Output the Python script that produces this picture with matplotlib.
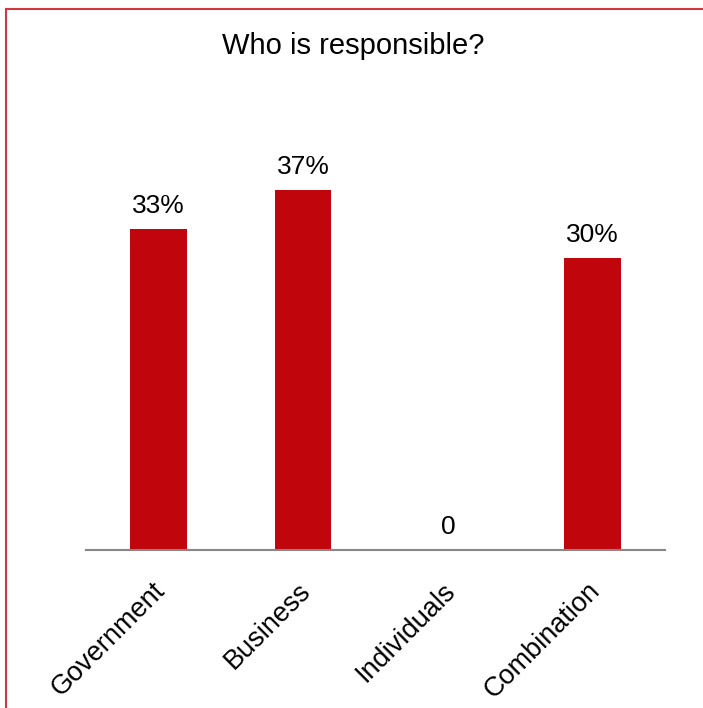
"""Who is responsible? bar chart."""

import matplotlib
matplotlib.use('Agg')
from matplotlib import pyplot as plt
from matplotlib import rc
from matplotlib.lines import Line2D
from matplotlib.transforms import ScaledTranslation

rc('font', family=['Liberation Sans', 'DejaVu Sans'])

categories = ['Government', 'Business', 'Individuals', 'Combination']
values = [33, 37, 0, 30]
value_labels = ['33%', '37%', '0', '30%']

barcolor = '#c0050c'
bordercolor = '#d0383e'

fig = plt.figure(figsize=(7.03, 7.08), dpi=100)
ax = fig.add_axes([86 / 703, 158 / 708, 579 / 703, 389 / 708])

xs = range(len(categories))
ax.bar(xs, values, width=0.39, color=barcolor)
for x, v, lab in zip(xs, values, value_labels):
    ax.annotate(lab, (x, v), xytext=(0, 8), textcoords='offset points',
                ha='center', va='bottom', fontsize=19, clip_on=False)

ax.set_xlim(-0.5, len(categories) - 0.5)
ax.set_ylim(0, 40)
ax.set_xticks(list(xs))
ax.set_xticklabels(categories, rotation=45, ha='right',
                   rotation_mode='anchor', fontsize=19.5)
ax.tick_params(axis='x', length=0, pad=20)
shift = ScaledTranslation(-6 / 100, 0, fig.dpi_scale_trans)
for lbl in ax.get_xticklabels():
    lbl.set_transform(lbl.get_transform() + shift)
ax.set_yticks([])
for side in ['top', 'right', 'left']:
    ax.spines[side].set_visible(False)
ax.spines['bottom'].set_color('#878787')
ax.spines['bottom'].set_linewidth(1.5)

fig.text(353 / 703, 1 - 46 / 708, 'Who is responsible?', ha='center',
         va='center', fontsize=21)

# red frame (top and left edges only)
fig.add_artist(Line2D([6 / 703, 1], [1 - 9 / 708, 1 - 9 / 708],
                      transform=fig.transFigure, color=bordercolor, lw=1.5))
fig.add_artist(Line2D([6 / 703, 6 / 703], [0, 1 - 9 / 708],
                      transform=fig.transFigure, color=bordercolor, lw=1.5))

plt.savefig('out.png', dpi=100)
